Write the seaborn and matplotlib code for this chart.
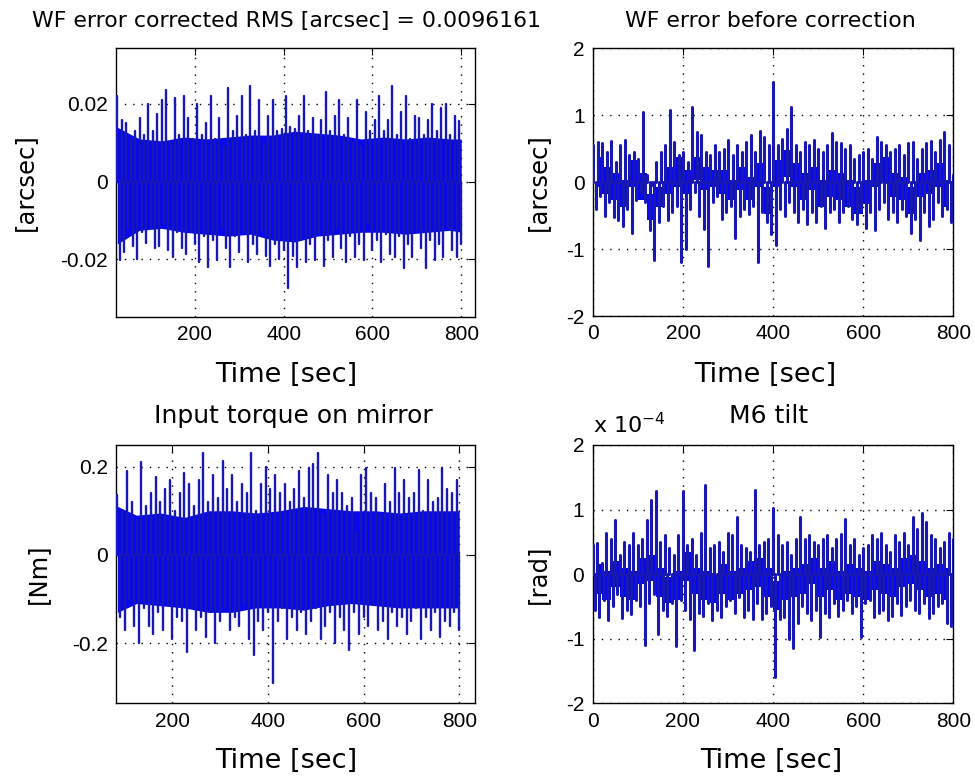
import numpy as np
import pandas as pd
import matplotlib
matplotlib.use("Agg")
import matplotlib.pyplot as plt
import seaborn as sns

# ---------------- data ----------------
# WF error corrected [arcsec]: per-10 s upper / lower extremes, t = 25..795
wf_corr_t0, wf_corr_dt = 25, 10
wf_corr_hi = [0.022, 0.016, 0.015, 0.011, 0.013, 0.0165, 0.012, 0.020, 0.013, 0.0175,
              0.021, 0.0235, 0.010, 0.0215, 0.012, 0.022, 0.0165, 0.011, 0.020, 0.012,
              0.015, 0.022, 0.011, 0.0165, 0.009, 0.024, 0.013, 0.017, 0.022, 0.012,
              0.0245, 0.013, 0.021, 0.010, 0.017, 0.021, 0.013, 0.0135, 0.022, 0.014,
              0.0135, 0.017, 0.022, 0.013, 0.0165, 0.012, 0.016, 0.023, 0.013, 0.017,
              0.021, 0.012, 0.0165, 0.010, 0.021, 0.009, 0.018, 0.013, 0.016, 0.022,
              0.013, 0.016, 0.0245, 0.012, 0.018, 0.022, 0.011, 0.017, 0.0165, 0.012,
              0.016, 0.020, 0.013, 0.019, 0.020, 0.012, 0.017, 0.0155]
wf_corr_lo = [-0.0202, -0.018, -0.012, -0.0165, -0.020, -0.013, -0.0158, -0.012, -0.017, -0.0165,
              -0.011, -0.0175, -0.0193, -0.013, -0.017, -0.0185, -0.0125, -0.016, -0.0207, -0.014,
              -0.0219, -0.015, -0.0202, -0.012, -0.017, -0.0219, -0.014, -0.018, -0.013, -0.0207,
              -0.016, -0.0185, -0.0125, -0.019, -0.0216, -0.016, -0.020, -0.0175, -0.0274, -0.019,
              -0.0219, -0.015, -0.0207, -0.016, -0.0202, -0.0135, -0.0216, -0.015, -0.0193, -0.012,
              -0.017, -0.0207, -0.014, -0.0193, -0.016, -0.0202, -0.011, -0.0175, -0.015, -0.0207,
              -0.0135, -0.0185, -0.0193, -0.014, -0.0222, -0.016, -0.0193, -0.0125, -0.017, -0.0222,
              -0.015, -0.0202, -0.016, -0.0193, -0.012, -0.0175, -0.0193, -0.016]
wf_corr_core_t = [25, 75, 125, 175, 225, 275, 325, 375, 425, 475, 525, 575, 625, 675, 725, 775, 800]
wf_corr_core_hi = [0.014, 0.011, 0.0105, 0.0115, 0.011, 0.0115, 0.012, 0.012, 0.013, 0.0125,
                   0.012, 0.011, 0.0115, 0.011, 0.0115, 0.011, 0.011]
wf_corr_core_lo = [-0.016, -0.0125, -0.012, -0.013, -0.0135, -0.014, -0.0135, -0.015, -0.0155, -0.014,
                   -0.0135, -0.013, -0.013, -0.0135, -0.013, -0.0125, -0.013]

# WF error before correction [arcsec], t = 0..800
wf_raw_t0, wf_raw_dt = 0, 10
wf_raw_hi = [0.55, 0.60, 0.58, 0.45, 0.62, 0.30, 0.55, 0.63, 0.40, 0.45,
             0.35, 1.05, 0.10, -0.05, 0.30, 0.45, 0.55, 1.08, 0.60, 0.40,
             0.45, 0.30, 1.13, 0.75, 0.70, 0.45, 0.40, 0.55, 0.45, 0.50,
             0.63, 0.40, 0.55, 0.45, 0.60, 0.70, 0.45, 0.76, 0.68, 0.55,
             1.50, 0.55, 0.65, 0.80, 1.13, 0.55, 0.45, 0.60, 0.55, 0.63,
             0.50, 0.45, 0.55, 0.73, 0.60, 0.58, 0.50, 0.55, 0.35, 0.40,
             0.45, 0.50, 0.35, 0.68, 0.60, 0.55, 0.45, 0.50, 0.55, 0.40,
             0.58, 0.60, 0.35, 0.50, 0.58, 0.62, 0.45, 0.63, 0.75, 0.55,
             0.10]
wf_raw_lo = [-0.40, -0.20, -0.50, -0.30, -0.52, -0.56, -0.66, -0.40, -0.76, -0.27,
             -0.15, -0.30, -0.71, -1.16, -0.60, -0.35, -0.56, -0.45, -0.35, -1.19,
             -1.00, -0.40, -0.15, -0.50, -0.70, -1.26, -0.30, -0.20, -0.55, -0.45,
             -0.35, -0.84, -0.50, -0.40, -0.47, -0.35, -1.19, -0.45, -0.60, -0.77,
             -0.94, -0.40, -0.50, -0.30, -0.45, -0.60, -0.40, -0.62, -0.45, -0.60,
             -0.35, -0.68, -0.45, -0.40, -0.60, -0.45, -0.35, -0.55, -0.62, -0.40,
             -0.68, -0.45, -0.71, -0.40, -0.30, -0.55, -0.45, -0.60, -0.40, -0.50,
             -0.76, -0.55, -0.86, -0.45, -0.65, -0.55, -0.30, -0.50, -0.40, -0.60,
             -0.58]
# thick blue body of the trace, per 20 s, t = 10..790
wf_raw_body_t0, wf_raw_body_dt = 10, 20
wf_raw_body_hi = [0.38, 0.23, 0.13, 0.03, 0.33, 0.13, -0.17, -0.07, 0.23, 0.38,
                  0.18, 0.38, 0.23, 0.18, 0.18, 0.03, 0.23, 0.08, 0.28, -0.07,
                  0.33, 0.48, 0.28, 0.13, 0.23, 0.03, 0.18, 0.13, 0.03, -0.07,
                  0.03, 0.28, 0.38, 0.13, 0.08, -0.07, 0.13, 0.18, 0.28, 0.03]
wf_raw_body_lo = [-0.07, -0.17, -0.27, -0.37, -0.07, -0.27, -0.57, -0.37, -0.17, -0.07,
                  -0.17, 0.03, -0.12, -0.07, -0.17, -0.27, -0.12, -0.27, -0.07, -0.47,
                  -0.07, 0.08, -0.07, -0.27, -0.12, -0.37, -0.22, -0.27, -0.37, -0.47,
                  -0.32, -0.07, -0.02, -0.22, -0.27, -0.47, -0.22, -0.17, -0.07, -0.37]

# Input torque on mirror [Nm], t = 85..795
torque_t0, torque_dt = 85, 10
torque_hi = [0.136, 0.10, 0.19, 0.12, 0.08, 0.21, 0.11, 0.14, 0.177, 0.12,
             0.15, 0.17, 0.10, 0.14, 0.185, 0.16, 0.11, 0.17, 0.23, 0.12,
             0.18, 0.13, 0.212, 0.15, 0.18, 0.12, 0.16, 0.14, 0.23, 0.10,
             0.16, 0.20, 0.15, 0.18, 0.14, 0.16, 0.12, 0.15, 0.19, 0.13,
             0.196, 0.207, 0.23, 0.09, 0.18, 0.14, 0.17, 0.14, 0.11, 0.13,
             0.05, 0.18, 0.196, 0.14, 0.13, 0.09, 0.16, 0.12, 0.196, 0.14,
             0.17, 0.13, 0.14, 0.192, 0.10, 0.17, 0.12, 0.13, 0.196, 0.15,
             0.14, 0.17]
torque_lo = [-0.14, -0.17, -0.10, -0.16, -0.199, -0.12, -0.16, -0.18, -0.13, -0.17,
             -0.11, -0.19, -0.14, -0.15, -0.22, -0.12, -0.17, -0.14, -0.185, -0.13,
             -0.20, -0.15, -0.12, -0.17, -0.14, -0.16, -0.11, -0.19, -0.226, -0.15,
             -0.17, -0.13, -0.29, -0.15, -0.12, -0.19, -0.14, -0.17, -0.13, -0.18,
             -0.15, -0.12, -0.19, -0.16, -0.13, -0.20, -0.14, -0.17, -0.215, -0.13,
             -0.18, -0.14, -0.16, -0.11, -0.17, -0.15, -0.19, -0.13, -0.16, -0.14,
             -0.18, -0.15, -0.12, -0.19, -0.14, -0.17, -0.13, -0.185, -0.15, -0.16,
             -0.13, -0.17]
torque_core_t = [85, 125, 175, 225, 275, 325, 375, 425, 475, 525, 575, 625, 675, 725, 775, 800]
torque_core_hi = [0.11, 0.09, 0.095, 0.085, 0.10, 0.10, 0.095, 0.10, 0.11, 0.105,
                  0.10, 0.10, 0.095, 0.10, 0.10, 0.10]
torque_core_lo = [-0.13, -0.11, -0.115, -0.12, -0.13, -0.13, -0.12, -0.12, -0.125, -0.115,
                  -0.11, -0.115, -0.12, -0.12, -0.12, -0.12]

# M6 tilt [1e-4 rad], t = 0..800
tilt_t0, tilt_dt = 0, 10
tilt_hi_e4 = [0.45, 0.48, 0.17, 0.63, 0.55, 0.84, 0.30, 0.50, 0.45, 0.63,
              0.45, 0.55, 0.84, 1.15, 1.28, 0.50, 0.60, 0.40, 0.30, 0.60,
              1.28, 0.45, 0.55, 0.30, 0.63, 1.38, 0.40, 0.45, 0.50, 0.35,
              0.63, 0.60, 0.89, 0.45, 0.40, 0.35, 1.30, 0.45, 0.50, 0.55,
              1.02, 0.60, 0.45, 0.50, 0.30, 0.55, 0.89, 0.55, 0.60, 0.50,
              0.45, 0.55, 0.60, 0.40, 0.55, 0.62, 0.86, 0.45, 0.55, 0.30,
              0.40, 0.45, 0.60, 0.55, 0.63, 0.45, 0.35, 0.60, 0.50, 0.63,
              0.45, 0.89, 0.70, 0.94, 0.80, 0.60, 0.55, 0.40, 0.50, 0.63,
              0.55]
tilt_lo_e4 = [-0.55, -0.66, -0.40, -0.71, -0.50, -0.30, -0.68, -0.55, -0.62, -0.40,
              -0.50, -1.10, -0.45, -0.30, -0.92, -0.55, -0.65, -0.45, -1.12, -0.40,
              -0.55, -0.70, -1.17, -0.60, -0.65, -0.45, -0.71, -0.55, -0.66, -0.50,
              -0.40, -0.60, -0.35, -0.66, -0.55, -0.70, -0.45, -0.69, -0.60, -0.50,
              -1.59, -0.70, -0.66, -1.00, -1.15, -0.75, -0.50, -0.60, -0.71, -0.55,
              -0.97, -0.60, -0.67, -0.45, -0.65, -0.55, -0.40, -0.60, -0.50, -0.97,
              -0.45, -0.40, -0.67, -0.60, -0.55, -0.71, -0.65, -0.45, -0.64, -0.50,
              -0.40, -0.55, -0.60, -0.45, -0.68, -0.60, -0.50, -0.45, -0.76, -0.80,
              -0.60]
tilt_body_t0, tilt_body_dt = 10, 20
tilt_body_hi_e4 = [0.15, 0.05, 0.20, 0.10, 0.05, 0.25, 0.30, 0.10, -0.05, 0.05,
                   0.35, 0.10, 0.05, 0.00, 0.15, 0.05, 0.10, 0.20, 0.25, 0.10,
                   -0.10, 0.05, 0.10, 0.15, 0.25, 0.10, 0.20, 0.05, 0.15, 0.10,
                   0.05, 0.20, 0.15, 0.10, 0.25, 0.30, 0.20, 0.10, 0.15, 0.10]
tilt_body_lo_e4 = [-0.30, -0.40, -0.20, -0.35, -0.40, -0.15, -0.10, -0.35, -0.45, -0.40,
                   -0.10, -0.30, -0.40, -0.45, -0.30, -0.40, -0.30, -0.25, -0.20, -0.35,
                   -0.55, -0.40, -0.35, -0.30, -0.15, -0.35, -0.25, -0.40, -0.30, -0.35,
                   -0.40, -0.25, -0.30, -0.35, -0.20, -0.15, -0.25, -0.35, -0.30, -0.40]

titles = ["WF error corrected RMS [arcsec] = 0.0096161", "WF error before correction",
          "Input torque on mirror", "M6 tilt"]
ylabels = ["[arcsec]", "[arcsec]", "[Nm]", "[rad]"]
xlabel = "Time [sec]"

# ---------------- style ----------------
sns.set_theme(style="white")
plt.rcParams["font.family"] = ["DejaVu Sans"]
plt.rcParams["mathtext.default"] = "regular"

BLUE = "#0808ee"
LINE = "#1818b4"

fig = plt.figure(figsize=(9.75, 7.78), dpi=100)
W, H = 975.0, 778.0
def box(l, t, r, b):
    return [l / W, 1 - b / H, (r - l) / W, (b - t) / H]

ax_tl = fig.add_axes(box(116, 48, 475, 317))
ax_tr = fig.add_axes(box(593.3, 48.3, 953.3, 316))
ax_bl = fig.add_axes(box(116, 445, 475, 703.3))
ax_br = fig.add_axes(box(592.7, 445, 953.3, 703.3))


def strokes(t0, dt, hi, lo):
    """Vertical strokes: up to each upper extreme at t, down to each lower extreme at t + dt/2."""
    t = t0 + dt * np.arange(len(hi))
    rows = []
    seg = 0
    for ti, h, l in zip(t, hi, lo):
        rows += [(ti, 0.0, seg), (ti, h, seg)]
        seg += 1
        rows += [(ti + dt / 2, 0.0, seg), (ti + dt / 2, l, seg)]
        seg += 1
    return pd.DataFrame(rows, columns=["t", "v", "seg"])


def band(ax, t, hi, lo, step=None):
    ax.fill_between(t, lo, hi, color=BLUE, lw=0, zorder=2, step=step)


def draw(ax, df, lw):
    sns.lineplot(data=df, x="t", y="v", units="seg", sort=False, estimator=None, ax=ax,
                 color=LINE, linewidth=lw, zorder=3)


band(ax_tl, wf_corr_core_t, wf_corr_core_hi, wf_corr_core_lo)
draw(ax_tl, strokes(wf_corr_t0, wf_corr_dt, wf_corr_hi, wf_corr_lo), 1.7)

body_t = wf_raw_body_t0 + wf_raw_body_dt * np.arange(len(wf_raw_body_hi))
band(ax_tr, body_t, wf_raw_body_hi, wf_raw_body_lo, step="mid")
draw(ax_tr, strokes(wf_raw_t0, wf_raw_dt, wf_raw_hi, wf_raw_lo), 2.2)

band(ax_bl, torque_core_t, torque_core_hi, torque_core_lo)
draw(ax_bl, strokes(torque_t0, torque_dt, torque_hi, torque_lo), 1.7)

body_t = tilt_body_t0 + tilt_body_dt * np.arange(len(tilt_body_hi_e4))
band(ax_br, body_t, tilt_body_hi_e4, tilt_body_lo_e4, step="mid")
draw(ax_br, strokes(tilt_t0, tilt_dt, tilt_hi_e4, tilt_lo_e4), 2.2)

cfg = [
    (ax_tl, (22, 831), (-0.0348, 0.0344), [200, 400, 600, 800], [-0.02, 0, 0.02], ["-0.02", "0", "0.02"],
     0.475, 1.079, 15.8, 0.475, -0.166, -0.22),
    (ax_tr, (0, 800), (-2, 2), [0, 200, 400, 600, 800], [-2, -1, 0, 1, 2], ["-2", "-1", "0", "1", "2"],
     0.491, 1.081, 15.8, 0.479, -0.171, -0.119),
    (ax_bl, (82, 833), (-0.336, 0.249), [200, 400, 600, 800], [-0.2, 0, 0.2], ["-0.2", "0", "0.2"],
     0.494, 1.084, 18.0, 0.475, -0.173, -0.184),
    (ax_br, (0, 800), (-2, 2), [0, 200, 400, 600, 800], [-2, -1, 0, 1, 2], ["-2", "-1", "0", "1", "2"],
     0.489, 1.084, 18.0, 0.494, -0.174, -0.118),
]

for i, (ax, xl, yl, xt, yt, ytl, tx, ty, tfs, lx, ly, yx) in enumerate(cfg):
    ax.set_xlim(*xl)
    ax.set_ylim(*yl)
    ax.set_xticks(xt, [str(v) for v in xt])
    ax.set_yticks(yt, ytl)
    ax.grid(True, color="black", linestyle=(0, (1, 5)), linewidth=1.0)
    ax.set_axisbelow(True)
    ax.tick_params(which="both", direction="in", length=5, width=0.8, color="black",
                   top=True, right=True, labelsize=15, pad=6, labelcolor="black")
    for lab in ax.get_xticklabels() + ax.get_yticklabels():
        lab.set_fontfamily(["Liberation Sans", "DejaVu Sans"])
    for s in ax.spines.values():
        s.set_color("black")
        s.set_linewidth(1.0)
        s.set_visible(True)
    ax.set_xlabel(xlabel, fontsize=19.5, color="black")
    ax.xaxis.set_label_coords(lx, ly)
    ax.set_ylabel(ylabels[i], fontsize=17.5, color="black")
    ax.yaxis.set_label_coords(yx, 0.5)
    ax.text(tx, ty, titles[i], transform=ax.transAxes, ha="center", va="baseline",
            fontsize=tfs, color="black")

ax_br.text(0.0, 1.045, r"x 10$^{-4}$", transform=ax_br.transAxes, ha="left", va="baseline",
           fontsize=16, color="black")

fig.savefig("out.png", dpi=100, facecolor="white")
